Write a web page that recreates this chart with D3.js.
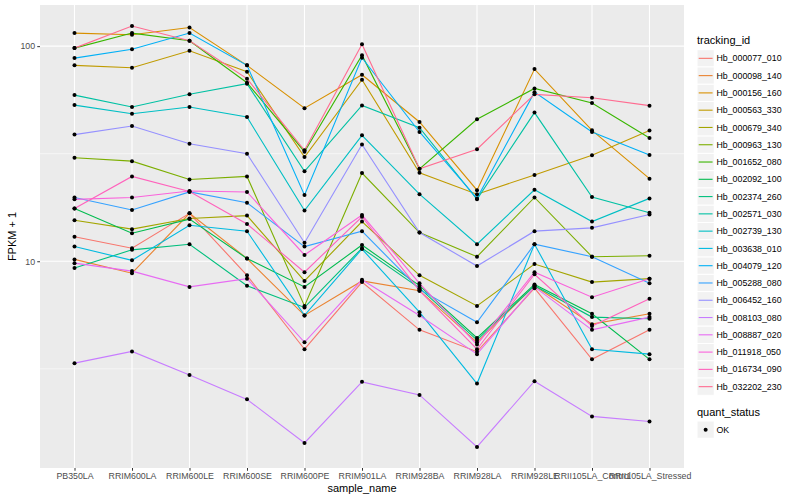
<!DOCTYPE html>
<html>
<head>
<meta charset="utf-8">
<script src="https://cdn.jsdelivr.net/npm/d3@7"></script>
<style>
body { margin: 0; background: #fff; }
text { font-family: "Liberation Sans", Arial, Helvetica, sans-serif; }
</style>
</head>
<body>
<div id="chart"></div>
<script>
// samples on the x axis
var samples = ["PB350LA", "RRIM600LA", "RRIM600LE", "RRIM600SE", "RRIM600PE", "RRIM901LA",
    "RRIM928BA", "RRIM928LA", "RRIM928LE", "RRII105LA_Control", "RRII105LA_Stressed"];

var trackingIds = ["Hb_000077_010", "Hb_000098_140", "Hb_000156_160", "Hb_000563_330", "Hb_000679_340",
    "Hb_000963_130", "Hb_001652_080", "Hb_002092_100", "Hb_002374_260", "Hb_002571_030",
    "Hb_002739_130", "Hb_003638_010", "Hb_004079_120", "Hb_005288_080", "Hb_006452_160",
    "Hb_008103_080", "Hb_008887_020", "Hb_011918_050", "Hb_016734_090", "Hb_032202_230"];

// FPKM + 1, one value per sample
var hb_000077_010 = [13.0, 11.5, 16.7, 8.6, 3.9, 8.0, 4.8, 3.8, 7.5, 3.5, 4.8];
var hb_000098_140 = [10.2, 8.8, 16.7, 10.3, 5.6, 8.1, 7.3, 4.2, 7.7, 5.1, 5.7];
var hb_000156_160 = [115, 113, 122, 81.4, 51.5, 73.6, 44.4, 21.4, 78.2, 40.6, 24.2];
var hb_000563_330 = [81.4, 79.4, 95.2, 76.0, 30.5, 69.8, 25.8, 20.5, 25.2, 31.1, 40.5];
var hb_000679_340 = [15.5, 14.1, 15.8, 16.3, 8.1, 15.3, 8.6, 6.2, 9.7, 8.0, 8.3];
var hb_000963_130 = [30.3, 29.2, 24.0, 24.8, 6.2, 25.7, 13.6, 10.5, 19.8, 10.5, 10.6];
var hb_001652_080 = [97.9, 115, 106, 67.6, 32.3, 90.8, 26.9, 45.7, 63.6, 54.4, 37.4];
var hb_002092_100 = [17.6, 13.5, 15.7, 10.3, 7.6, 11.9, 7.7, 4.4, 7.8, 5.7, 3.5];
var hb_002374_260 = [9.3, 11.3, 12.0, 7.7, 6.1, 11.5, 7.5, 4.3, 7.7, 5.5, 5.4];
var hb_002571_030 = [59.2, 52.1, 59.7, 66.9, 26.2, 53.0, 41.8, 19.4, 49.1, 19.9, 16.8];
var hb_002739_130 = [53.2, 48.5, 52.1, 46.8, 17.2, 38.5, 20.5, 12.0, 21.5, 15.3, 19.6];
var hb_003638_010 = [11.7, 10.1, 14.7, 13.8, 5.6, 11.4, 5.8, 2.7, 12.0, 3.9, 3.7];
var hb_004079_120 = [88.0, 96.8, 115, 81.4, 20.3, 88.3, 39.9, 19.6, 61.1, 39.9, 31.2];
var hb_005288_080 = [19.8, 17.3, 21.0, 18.7, 11.7, 13.8, 7.4, 5.2, 12.0, 10.5, 7.9];
var hb_006452_160 = [38.8, 42.5, 35.2, 31.6, 12.2, 34.9, 13.6, 9.5, 13.8, 14.3, 16.5];
var hb_008103_080 = [3.36, 3.81, 2.96, 2.28, 1.43, 2.75, 2.39, 1.37, 2.77, 1.90, 1.80];
var hb_008887_020 = [9.8, 9.0, 7.6, 8.3, 4.2, 8.2, 5.6, 3.7, 7.6, 4.8, 5.5];
var hb_011918_050 = [19.4, 19.8, 21.2, 21.0, 10.7, 16.4, 7.9, 4.1, 8.9, 6.8, 8.3];
var hb_016734_090 = [17.6, 24.8, 21.1, 14.9, 8.9, 16.1, 7.3, 3.9, 8.7, 5.0, 6.7];
var hb_032202_230 = [97.9, 124, 106, 70.6, 32.8, 102, 26.9, 33.2, 59.7, 57.6, 52.9];

var yTicks = [10, 100];
var quantStatus = ["OK"];

// ggplot hue palette, 20 levels
var palette = ["#F8766D", "#EA8331", "#D89000", "#C09B00", "#A3A500", "#7CAE00", "#39B600", "#00BB4E",
    "#00BF7D", "#00C1A3", "#00BFC4", "#00BAE0", "#00B0F6", "#35A2FF", "#9590FF", "#C77CFF",
    "#E76BF3", "#FA62DB", "#FF62BC", "#FF6C91"];

var allValues = [hb_000077_010, hb_000098_140, hb_000156_160, hb_000563_330, hb_000679_340,
    hb_000963_130, hb_001652_080, hb_002092_100, hb_002374_260, hb_002571_030,
    hb_002739_130, hb_003638_010, hb_004079_120, hb_005288_080, hb_006452_160,
    hb_008103_080, hb_008887_020, hb_011918_050, hb_016734_090, hb_032202_230];

var series = trackingIds.map(function(id, i) {
    return {id: id, color: palette[i], points: samples.map(function(s, j) {
        return {sample: s, value: allValues[i][j]};
    })};
});

var margin = {top: 5, right: 116, bottom: 32, left: 40},
    width = 800 - margin.left - margin.right,
    height = 500 - margin.top - margin.bottom;

var svg = d3.select("#chart").append("svg")
    .attr("width", 800)
    .attr("height", 500);

var g = svg.append("g")
    .attr("transform", "translate(" + margin.left + "," + margin.top + ")");

var xScale = d3.scalePoint()
    .domain(samples)
    .range([0, width])
    .padding(0.6);

// log scale with 5% expansion like ggplot
var flat = [].concat.apply([], allValues);
var lo = Math.log10(d3.min(flat)), hi = Math.log10(d3.max(flat));
var pad = (hi - lo) * 0.05;
var yScale = d3.scaleLog()
    .domain([Math.pow(10, lo - pad), Math.pow(10, hi + pad)])
    .range([height, 0]);

// panel
g.append("rect")
    .attr("width", width)
    .attr("height", height)
    .attr("fill", "#EBEBEB");

// minor grid (half decades)
var minor = [Math.pow(10, 0.5), Math.pow(10, 1.5)];
g.selectAll(".minor").data(minor).enter().append("line")
    .attr("x1", 0).attr("x2", width)
    .attr("y1", function(d) { return yScale(d); })
    .attr("y2", function(d) { return yScale(d); })
    .attr("stroke", "#fff").attr("stroke-width", 0.55);

g.selectAll(".major").data(yTicks).enter().append("line")
    .attr("x1", 0).attr("x2", width)
    .attr("y1", function(d) { return yScale(d); })
    .attr("y2", function(d) { return yScale(d); })
    .attr("stroke", "#fff").attr("stroke-width", 1.1);

g.selectAll(".vgrid").data(samples).enter().append("line")
    .attr("y1", 0).attr("y2", height)
    .attr("x1", function(d) { return xScale(d); })
    .attr("x2", function(d) { return xScale(d); })
    .attr("stroke", "#fff").attr("stroke-width", 1.1);

// lines
var line = d3.line()
    .x(function(d) { return xScale(d.sample); })
    .y(function(d) { return yScale(d.value); });

series.forEach(function(s) {
    g.append("path")
        .datum(s.points)
        .attr("fill", "none")
        .attr("stroke", s.color)
        .attr("stroke-width", 1.1)
        .attr("d", line);
});

// points on top
series.forEach(function(s) {
    g.selectAll(null).data(s.points).enter().append("circle")
        .attr("cx", function(d) { return xScale(d.sample); })
        .attr("cy", function(d) { return yScale(d.value); })
        .attr("r", 2)
        .attr("fill", "#000");
});

// axes
var yAxis = g.append("g")
    .call(d3.axisLeft(yScale).tickValues(yTicks).tickFormat(d3.format("d")).tickSize(2.75).tickPadding(2.2));
var xAxis = g.append("g")
    .attr("transform", "translate(0," + height + ")")
    .call(d3.axisBottom(xScale).tickSize(2.75).tickPadding(2.2));

[yAxis, xAxis].forEach(function(a) {
    a.select(".domain").remove();
    a.selectAll(".tick line").attr("stroke", "#333");
    a.selectAll(".tick text").attr("fill", "#4D4D4D").style("font-size", "8.8px")
        .style("font-family", "'Liberation Sans', Arial, sans-serif");
});

// axis titles
svg.append("text")
    .attr("x", margin.left + width / 2)
    .attr("y", 492)
    .attr("text-anchor", "middle")
    .style("font-size", "11px")
    .text("sample_name");

svg.append("text")
    .attr("transform", "translate(16," + (margin.top + height / 2) + ") rotate(-90)")
    .attr("text-anchor", "middle")
    .style("font-size", "11px")
    .text("FPKM + 1");

// legend: tracking_id
var keySize = 17.28;
var legend = svg.append("g").attr("transform", "translate(697,0)");

legend.append("text")
    .attr("x", 0).attr("y", 44)
    .style("font-size", "11px")
    .text("tracking_id");

var keys = legend.selectAll(".key").data(series).enter().append("g")
    .attr("transform", function(d, i) { return "translate(0," + (49.7 + i * keySize) + ")"; });

keys.append("rect")
    .attr("width", keySize).attr("height", keySize)
    .attr("fill", "#F2F2F2").attr("stroke", "#fff").attr("stroke-width", 1);

keys.append("line")
    .attr("x1", 1.7).attr("x2", keySize - 1.7)
    .attr("y1", keySize / 2).attr("y2", keySize / 2)
    .attr("stroke", function(d) { return d.color; })
    .attr("stroke-width", 1.1);

keys.append("text")
    .attr("x", keySize + 2.2).attr("y", keySize / 2 + 3.1)
    .style("font-size", "8.8px")
    .text(function(d) { return d.id; });

// legend: quant_status
legend.append("text")
    .attr("x", 0).attr("y", 416)
    .style("font-size", "11px")
    .text("quant_status");

var qkeys = legend.selectAll(".qkey").data(quantStatus).enter().append("g")
    .attr("transform", function(d, i) { return "translate(0," + (421 + i * keySize) + ")"; });

qkeys.append("rect")
    .attr("width", keySize).attr("height", keySize)
    .attr("fill", "#F2F2F2").attr("stroke", "#fff").attr("stroke-width", 1);

qkeys.append("circle")
    .attr("cx", keySize / 2).attr("cy", keySize / 2).attr("r", 2)
    .attr("fill", "#000");

qkeys.append("text")
    .attr("x", keySize + 2.2).attr("y", keySize / 2 + 3.1)
    .style("font-size", "8.8px")
    .text(function(d) { return d; });
</script>
</body>
</html>
